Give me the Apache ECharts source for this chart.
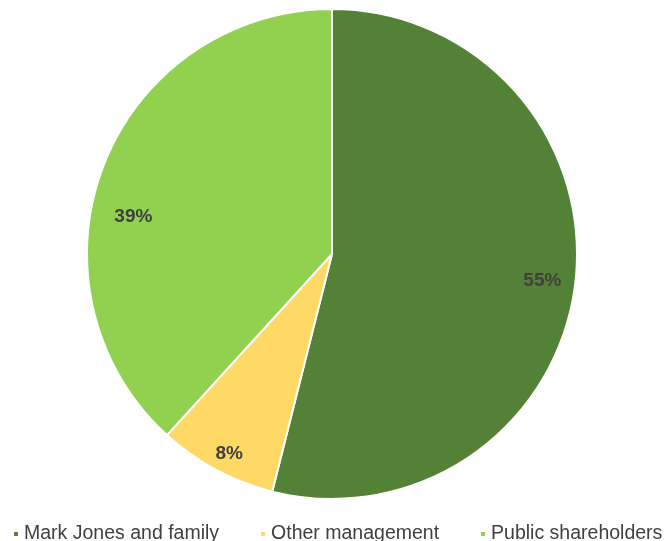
<!DOCTYPE html>
<html>
<head>
<meta charset="utf-8">
<script src="https://cdn.jsdelivr.net/npm/echarts@6/dist/echarts.min.js"></script>
<style>html,body{margin:0;padding:0;background:#fff;}#c{width:664px;height:541px;}</style>
</head>
<body>
<div id="c"></div>
<script>
const categories = ['Mark Jones and family', 'Other management', 'Public shareholders'];
const values = [55, 8, 39];
const colors = ['#538135', '#FFD966', '#92D050'];
const labelOffsets = [[-1, 1], [-2, 12], [0, 40]];

const chart = echarts.init(document.getElementById('c'), null, {renderer: 'canvas'});
const mainData = categories.map((n, i) => ({name: n, value: values[i], itemStyle: {color: colors[i]}}));
const labelData = categories.map((n, i) => ({name: n, value: values[i], label: {offset: labelOffsets[i]}}));
chart.setOption({
  animation: false,
  legend: {
    data: categories,
    left: 7,
    top: 519,
    width: 700,
    icon: 'rect',
    itemWidth: 6,
    itemHeight: 6,
    itemGap: 40,
    textStyle: {fontFamily: 'Liberation Sans, Arial, sans-serif', fontSize: 19.5, color: '#404040'}
  },
  series: [
    {
      type: 'pie',
      center: [332, 254],
      radius: [0, 245],
      startAngle: 90,
      clockwise: true,
      label: {show: false},
      labelLine: {show: false},
      itemStyle: {borderColor: '#ffffff', borderWidth: 2},
      emphasis: {disabled: true},
      data: mainData
    },
    {
      type: 'pie',
      center: [332, 254],
      radius: [170, 250],
      startAngle: 90,
      clockwise: true,
      silent: true,
      itemStyle: {color: 'rgba(0,0,0,0)', borderWidth: 0},
      label: {
        show: true,
        position: 'inside',
        formatter: '{c}%',
        fontFamily: 'Liberation Sans, Arial, sans-serif',
        fontSize: 19,
        fontWeight: 'bold',
        color: '#404040'
      },
      labelLine: {show: false},
      emphasis: {disabled: true},
      data: labelData
    }
  ]
});
</script>
</body>
</html>
